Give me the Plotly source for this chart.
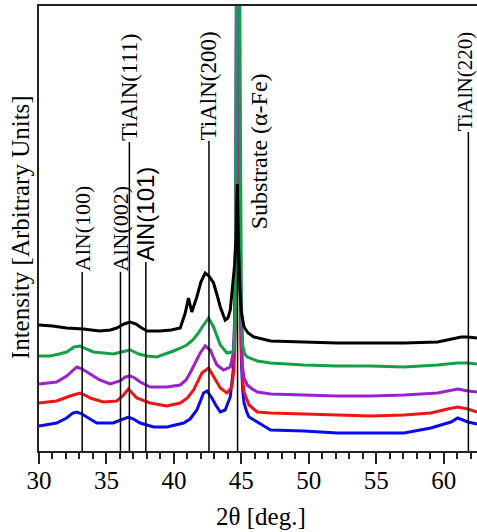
import plotly.graph_objects as go

# ---- data (2θ in degrees, intensity in arbitrary units) ----
theta_black = [30, 31, 32.05, 33.3, 34.5, 35.3, 35.77, 36.3, 36.76, 37.2, 37.5, 38.0, 38.98, 39.8, 40.47,
               40.84, 41.08, 41.33, 41.5, 41.7, 42.0, 42.32, 42.6, 42.94, 43.2, 43.44, 43.8, 44.0, 44.18,
               44.4, 44.5, 44.6, 44.66, 44.7, 44.78, 44.88, 45.0, 45.2, 45.5, 45.94, 47.17, 49.65, 52.1,
               54.6, 57.07, 59.55, 60.8, 61.3, 61.8, 62.47]
black = [126, 125, 123, 122, 120, 121, 123, 127, 129, 127, 124, 120, 120, 121, 123,
         138, 153, 139, 146, 154, 169, 178, 175, 168, 156, 144, 131, 133, 141,
         174, 186, 211, 251, 267, 211, 166, 139, 124, 118, 114, 110, 109, 108,
         108, 108, 109, 113, 114, 114, 113]

theta_green = [30, 30.8, 31.5, 32.05, 32.6, 33.04, 33.5, 34.03, 34.8, 35.5, 36.1, 36.76, 37.4, 38.0, 38.73,
               39.4, 39.97, 40.5, 40.96, 41.4, 41.7, 42.2, 42.57, 42.94, 43.2, 43.44, 43.93, 44.3, 44.45,
               44.55, 44.62, 44.7, 44.78, 44.85, 44.92, 45.0, 45.1, 45.25, 45.44, 46.18, 47.17, 49.65,
               52.1, 54.6, 57.07, 59.55, 61.0, 61.8, 62.47]
green = [95, 95, 97, 99, 104, 105, 102, 99, 98, 97, 99, 101, 97, 95, 94,
         97, 100, 103, 106, 111, 116, 126, 133, 124, 115, 106, 98, 99, 101,
         131, 351, 851, 951, 551, 301, 151, 106, 97, 94, 90, 88, 86,
         85, 85, 84, 86, 88, 88, 87]

theta_purple = [30, 31.3, 32.05, 32.5, 32.8, 33.2, 33.54, 34.0, 34.5, 35.27, 36.0, 36.4, 36.76, 37.1, 37.5,
                38.24, 39.48, 40.47, 40.9, 41.2, 41.6, 41.95, 42.32, 42.7, 42.95, 43.19, 43.68, 44.18,
                44.4, 44.5, 44.6, 44.68, 44.78, 44.88, 45.0, 45.07, 45.2, 45.44, 45.8, 46.18, 47.17,
                49.65, 52.1, 54.6, 57.07, 59.55, 60.5, 61.04, 61.8, 62.47]
purple = [67, 69, 75, 81, 84, 82, 79, 75, 71, 67, 70, 74, 75, 73, 69,
          64, 64, 66, 71, 78, 89, 98, 105, 101, 93, 86, 81, 84,
          98, 131, 251, 751, 651, 251, 111, 86, 73, 66, 62, 59, 57,
          56, 55, 55, 56, 58, 61, 62, 60, 59]

theta_red = [30, 31.3, 32.3, 33.04, 33.4, 33.79, 34.77, 35.77, 36.2, 36.63, 36.9, 37.25, 38.24, 39.48, 40.47,
             41.0, 41.46, 42.08, 42.57, 43.07, 43.44, 43.93, 44.3, 44.45, 44.55, 44.62, 44.68, 44.78,
             44.88, 45.0, 45.1, 45.2, 45.4, 45.57, 46.18, 47.17, 49.65, 52.1, 54.6, 57.07, 59.05,
             60.3, 61.04, 61.8, 62.47]
red = [48, 50, 55, 58, 56, 53, 49, 50, 55, 62, 58, 53, 48, 45, 48,
       53, 61, 78, 83, 71, 63, 58, 64, 81, 121, 251, 751, 651,
       201, 101, 71, 59, 51, 46, 39, 38, 37, 36, 35, 36, 38,
       42, 44, 42, 39]

theta_blue = [30, 31.3, 32.05, 32.5, 32.8, 33.2, 33.54, 34.28, 35.5, 36.2, 36.63, 37.0, 37.5, 38.49, 39.48,
              40.72, 41.2, 41.7, 42.2, 42.45, 42.82, 43.1, 43.44, 43.8, 44.18, 44.4, 44.5, 44.6, 44.68,
              44.78, 44.88, 45.0, 45.1, 45.2, 45.4, 45.57, 46.18, 47.17, 49.65, 52.1, 54.6, 57.07,
              59.05, 60.54, 61.04, 61.8, 62.47]
blue = [25, 28, 33, 38, 39, 37, 34, 28, 28, 32, 34, 32, 28, 24, 24,
        28, 32, 41, 58, 60, 53, 46, 39, 41, 54, 81, 121, 251, 751,
        651, 201, 91, 61, 48, 39, 34, 29, 21, 20, 18, 18, 18,
        23, 29, 33, 29, 27]

peak_labels = ["AlN(100)", "AlN(002)", "TiAlN(111)", "AlN(101)", "TiAlN(200)", "TiAlN(220)"]
peak_positions = [33.2, 36.04, 36.7, 37.92, 42.6, 61.83]
peak_line_tops = [179, 179, 309, 189, 310, 319]
peak_font_sizes = [22, 22, 23, 24, 23, 21]
peak_label_shifts = [0, 0, 0, 0, 0, -3]

SERIF = "Liberation Serif, Times New Roman, Times, Nimbus Roman, DejaVu Serif, serif"
SANS = "Liberation Sans, Arial, Helvetica, DejaVu Sans, sans-serif"
peak_fonts = [SERIF, SERIF, SERIF, SANS, SERIF, SERIF]

substrate_label = "Substrate (\u03b1-Fe)"
substrate_position = 44.72
substrate_line_top = 266
substrate_label_x = 46.33
substrate_label_bottom = 221

x_tick_values = [30, 35, 40, 45, 50, 55, 60]
x_tick_labels = ["30", "35", "40", "45", "50", "55", "60"]

# ---- figure ----
fig = go.Figure()
series = [
    (theta_blue, blue, "#0a0af0"),
    (theta_red, red, "#f01414"),
    (theta_purple, purple, "#9a22cc"),
    (theta_green, green, "#14a046"),
    (theta_black, black, "#000000"),
]
for tx, ty, col in series:
    fig.add_trace(go.Scatter(x=tx, y=ty, mode="lines",
                             line=dict(color=col, width=3), showlegend=False))

for lab, pos, top, fs, fam, sh in zip(peak_labels, peak_positions, peak_line_tops, peak_font_sizes,
                                      peak_fonts, peak_label_shifts):
    fig.add_shape(type="line", x0=pos, x1=pos, y0=0, y1=top, xref="x", yref="y",
                  line=dict(color="black", width=1.5), layer="above")
    fig.add_annotation(x=pos, y=top, xref="x", yref="y", text=lab, showarrow=False,
                       textangle=-90, xanchor="center", yanchor="bottom", xshift=sh,
                       font=dict(family=fam, size=fs, color="black"), borderpad=0)

fig.add_shape(type="line", x0=substrate_position, x1=substrate_position, y0=0, y1=substrate_line_top,
              xref="x", yref="y", line=dict(color="black", width=1.5), layer="above")
fig.add_annotation(x=substrate_label_x, y=substrate_label_bottom, xref="x", yref="y",
                   text=substrate_label, showarrow=False, textangle=-90,
                   xanchor="center", yanchor="bottom",
                   font=dict(family=SERIF, size=24, color="black"), borderpad=0)

# axis titles
fig.add_annotation(x=-0.0434, y=0.503, xref="paper", yref="paper",
                   text="Intensity [Arbitrary Units]", showarrow=False, textangle=-90,
                   xanchor="center", yanchor="middle", font=dict(family=SERIF, size=25, color="black"))
fig.add_annotation(x=0.507, y=-0.148, xref="paper", yref="paper",
                   text="2\u03b8 [deg.]", showarrow=False,
                   xanchor="center", yanchor="middle", font=dict(family=SERIF, size=25, color="black"))

fig.update_xaxes(range=[30, 62.47], tickmode="array", tickvals=x_tick_values, ticktext=x_tick_labels,
                 ticks="outside", ticklen=11, tickwidth=1.5, tickcolor="#222",
                 minor=dict(dtick=1, ticks="outside", ticklen=6, tickwidth=1.5, tickcolor="#222"),
                 showline=True, linecolor="#222", linewidth=2, mirror=True,
                 showgrid=False, zeroline=False, ticklabelstandoff=-5,
                 tickfont=dict(family=SERIF, size=25, color="black"))
fig.update_yaxes(range=[0, 445], showticklabels=False, ticks="", showline=True,
                 linecolor="#222", linewidth=2, mirror=False, showgrid=False, zeroline=False)

fig.update_layout(width=477, height=532, margin=dict(l=39, r=0, t=6, b=81),
                  plot_bgcolor="white", paper_bgcolor="white", showlegend=False,
                  font=dict(family=SERIF))

fig.write_html("out.html", config={"displayModeBar": False},
               post_script="document.body.style.margin='0';document.body.style.overflow='hidden';")
